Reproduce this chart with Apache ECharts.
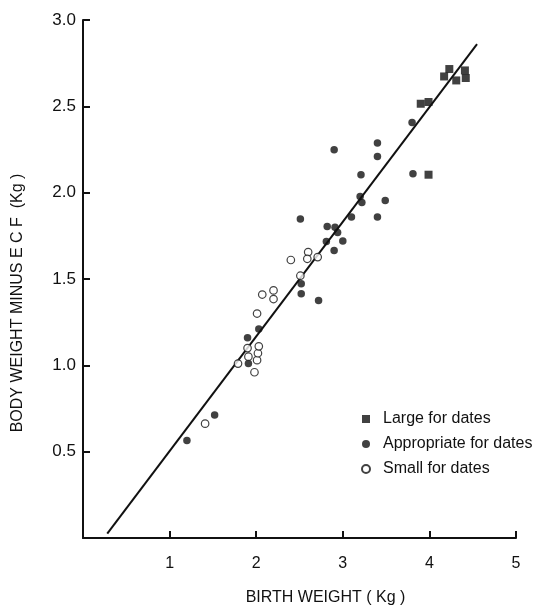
<!DOCTYPE html>
<html>
<head>
<meta charset="utf-8">
<title>Body weight minus ECF vs birth weight</title>
<script src="https://cdn.jsdelivr.net/npm/echarts@6/dist/echarts.min.js"></script>
<style>
  html, body { margin: 0; padding: 0; background: #fff; }
  #chart { width: 540px; height: 605px; }
</style>
</head>
<body>
<div id="chart"></div>
<script>
// Data (kg)
const largeX = [3.90, 3.99, 4.17, 4.23, 4.31, 4.41, 4.42, 3.99]
const largeY = [2.515, 2.525, 2.673, 2.716, 2.65, 2.708, 2.664, 2.104]

const appropriateX = [1.20, 1.52, 1.90, 1.91, 2.03, 2.52, 2.52, 2.72, 2.81, 2.90, 3.00, 2.82, 2.91,
  2.94, 2.51, 3.10, 3.40, 3.20, 3.22, 3.49, 3.21, 2.90, 3.40, 3.40, 3.81, 3.80]
const appropriateY = [0.565, 0.712, 1.16, 1.01, 1.21, 1.473, 1.415, 1.376, 1.717, 1.665, 1.72, 1.804, 1.80,
  1.77, 1.847, 1.859, 1.859, 1.978, 1.943, 1.955, 2.104, 2.248, 2.287, 2.21, 2.109, 2.407]

const smallX = [1.41, 1.79, 1.91, 1.90, 1.98, 2.01, 2.02, 2.03, 2.01, 2.07, 2.20, 2.20, 2.40, 2.51,
  2.60, 2.59, 2.71]
const smallY = [0.662, 1.01, 1.05, 1.10, 0.96, 1.03, 1.07, 1.11, 1.30, 1.41, 1.434, 1.384, 1.61, 1.519,
  1.656, 1.617, 1.627]

// regression line end points
const fitX = [0.28, 4.55]
const fitY = [0.025, 2.86]

const legendNames = ['Large for dates', 'Appropriate for dates', 'Small for dates']

const FONT = 'Liberation Sans'
const INK = '#111'

const toPairs = (xs, ys) => xs.map((x, i) => [x, ys[i]])

const chart = echarts.init(document.getElementById('chart'), null, { renderer: 'canvas' })

const option = {
  animation: false,
  backgroundColor: '#fff',
  textStyle: { fontFamily: FONT, color: INK },
  grid: {
    left: 83,
    right: 24,
    top: 20,
    bottom: 67,
    outerBoundsMode: 'none'
  },
  legend: {
    orient: 'vertical',
    left: 356,
    top: 406,
    itemWidth: 8,
    itemHeight: 8,
    itemGap: 9,
    textStyle: { fontFamily: FONT, fontSize: 16, color: INK, padding: [0, 0, 0, 8] },
    data: [
      { name: legendNames[0], icon: 'rect' },
      { name: legendNames[1], icon: 'circle' },
      { name: legendNames[2], icon: 'circle' }
    ]
  },
  xAxis: {
    type: 'value',
    min: 0,
    max: 5,
    interval: 1,
    name: 'BIRTH WEIGHT ( Kg )',
    nameLocation: 'middle',
    nameGap: 52,
    nameTextStyle: { fontFamily: FONT, fontSize: 16, color: INK, padding: [0, 0, 0, 52] },
    axisLine: { lineStyle: { color: INK, width: 2 } },
    axisTick: { inside: true, length: 7, lineStyle: { color: INK, width: 2 } },
    axisLabel: {
      margin: 18,
      fontFamily: FONT,
      fontSize: 16,
      color: INK,
      formatter: (v) => (v === 0 ? '' : String(v))
    },
    splitLine: { show: false }
  },
  yAxis: {
    type: 'value',
    min: 0,
    max: 3,
    interval: 0.5,
    name: 'BODY WEIGHT MINUS E C F  (Kg )',
    nameLocation: 'middle',
    nameGap: 57,
    nameTextStyle: { fontFamily: FONT, fontSize: 16, color: INK, padding: [0, 48, 0, 0] },
    axisLine: { lineStyle: { color: INK, width: 2 } },
    axisTick: { inside: true, length: 7, lineStyle: { color: INK, width: 2 } },
    axisLabel: {
      margin: 7,
      fontFamily: FONT,
      fontSize: 17,
      color: INK,
      formatter: (v) => (v === 0 ? '' : v.toFixed(1))
    },
    splitLine: { show: false }
  },
  series: [
    {
      name: legendNames[0],
      type: 'scatter',
      symbol: 'rect',
      symbolSize: 8,
      itemStyle: { color: INK },
      data: toPairs(largeX, largeY)
    },
    {
      name: legendNames[1],
      type: 'scatter',
      symbol: 'circle',
      symbolSize: 7.5,
      itemStyle: { color: INK },
      data: toPairs(appropriateX, appropriateY)
    },
    {
      name: legendNames[2],
      type: 'scatter',
      symbol: 'circle',
      symbolSize: 7.5,
      itemStyle: { color: '#fff', borderColor: INK, borderWidth: 1.2 },
      data: toPairs(smallX, smallY)
    },
    {
      name: 'fit',
      type: 'line',
      showSymbol: false,
      silent: true,
      z: 1,
      lineStyle: { color: INK, width: 2 },
      data: toPairs(fitX, fitY)
    }
  ]
}

chart.setOption(option)
</script>
</body>
</html>
